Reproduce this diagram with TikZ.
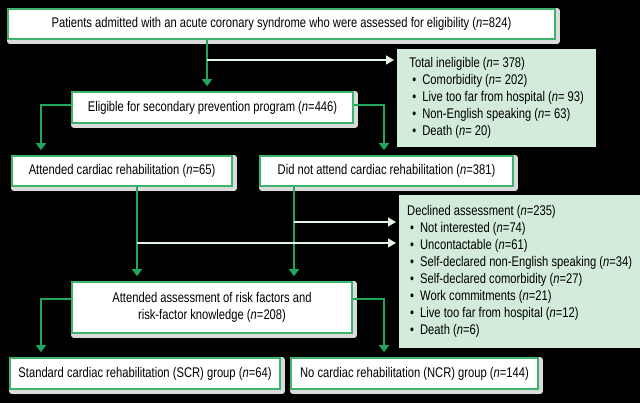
\documentclass[tikz,border=0pt]{standalone}
\usepackage{fontspec}
\setmainfont[FakeStretch=0.80]{Liberation Sans}
\usetikzlibrary{arrows.meta}
\definecolor{flowgreen}{HTML}{1FA55C}
\definecolor{boxgreen}{HTML}{3DB36E}
\definecolor{paleline}{HTML}{E4F3E8}
\definecolor{notefill}{HTML}{D3EBD9}
\newcommand{\nval}{\textit{n}}
\newcommand{\itm}{\hspace*{3pt}\textbullet\hspace{6pt}}
\tikzset{
	stagebox/.style={draw=boxgreen, line width=1.6pt, fill=white, inner sep=0pt, align=center,
		preaction={draw=black!14, line width=6pt, line join=round, transform canvas={xshift=2pt, yshift=-2pt}}},
	notebox/.style={fill=notefill, inner sep=0pt, align=left, anchor=north west},
	flow/.style={draw=flowgreen, line width=1.4pt, -{Triangle[width=10pt, length=7pt]}, shorten >=5pt},
	side/.style={draw=paleline, line width=1.4pt, -{Triangle[width=9pt, length=8pt]}, shorten >=3pt},
}

\begin{document}
\begin{tikzpicture}[x=1pt, y=-1pt, font=\fontsize{14}{17}\selectfont]
		%%%%% START %%%%%
		
		\fill[black] (0, 0) rectangle (640, 403);
		\useasboundingbox (0, 0) rectangle (640, 403);
		
		\node[stagebox, minimum width=547pt, minimum height=30pt] (admit) at (281.5, 24) {Patients admitted with an acute coronary syndrome who were assessed for eligibility (\nval=824)};
		\node[stagebox, minimum width=281pt, minimum height=31pt] (elig) at (212.5, 107.5) {Eligible for secondary prevention program (\nval=446)};
		\node[stagebox, minimum width=220pt, minimum height=30pt] (attend) at (122, 171) {Attended cardiac rehabilitation (\nval=65)};
		\node[stagebox, minimum width=253pt, minimum height=30pt] (noattend) at (386.5, 171) {Did not attend cardiac rehabilitation (\nval=381)};
		\node[stagebox, minimum width=280pt, minimum height=51pt] (assess) at (212, 307.5) {Attended assessment of risk factors and\\risk-factor knowledge (\nval=208)};
		\node[stagebox, minimum width=270pt, minimum height=31pt] (scr) at (145, 373.5) {Standard cardiac rehabilitation (SCR) group (\nval=64)};
		\node[stagebox, minimum width=247pt, minimum height=31pt] (ncr) at (414.5, 373.5) {No cardiac rehabilitation (NCR) group (\nval=144)};
		
		\node[notebox, minimum width=199pt, minimum height=98pt] (inelig) at (397, 49) {Total ineligible (\nval= 378)\\
			\itm Comorbidity (\nval= 202)\\
			\itm Live too far from hospital (\nval= 93)\\
			\itm Non-English speaking (\nval= 63)\\
			\itm Death (\nval= 20)};
		\node[notebox, minimum width=241pt, minimum height=153pt] (declined) at (399, 195) {Declined assessment (\nval=235)\\
			\itm Not interested (\nval=74)\\
			\itm Uncontactable (\nval=61)\\
			\itm Self-declared non-English speaking (\nval=34)\\
			\itm Self-declared comorbidity (\nval=27)\\
			\itm Work commitments (\nval=21)\\
			\itm Live too far from hospital (\nval=12)\\
			\itm Death (\nval=6)};
		
		% split points on the vertical lines
		\coordinate (tapA) at (207, 60);
		\coordinate (tapB) at (294, 222);
		\coordinate (tapC) at (137, 243);
		\coordinate (legL) at (41, 0);
		\coordinate (legR) at (384, 0);
		
		\draw[flow] (admit.south -| tapA) -- (elig.north -| tapA);
		\draw[side] (tapA) -- (inelig.west |- tapA);
		
		\draw[flow] (elig.west |- 0, 105) -| (attend.north -| legL);
		\draw[flow] (elig.east |- 0, 105) -| (noattend.north -| legR);
		
		\draw[flow] (attend.south -| tapC) -- (assess.north -| tapC);
		\draw[flow] (noattend.south -| tapB) -- (assess.north -| tapB);
		\draw[side] (tapB) -- (declined.west |- tapB);
		\draw[side] (tapC) -- (declined.west |- tapC);
		
		\draw[flow] (assess.west |- 0, 299) -| (scr.north -| legL);
		\draw[flow] (assess.east |- 0, 299) -| (ncr.north -| legR);
		
		%%%%% END %%%%%
	\end{tikzpicture}
\end{document}
